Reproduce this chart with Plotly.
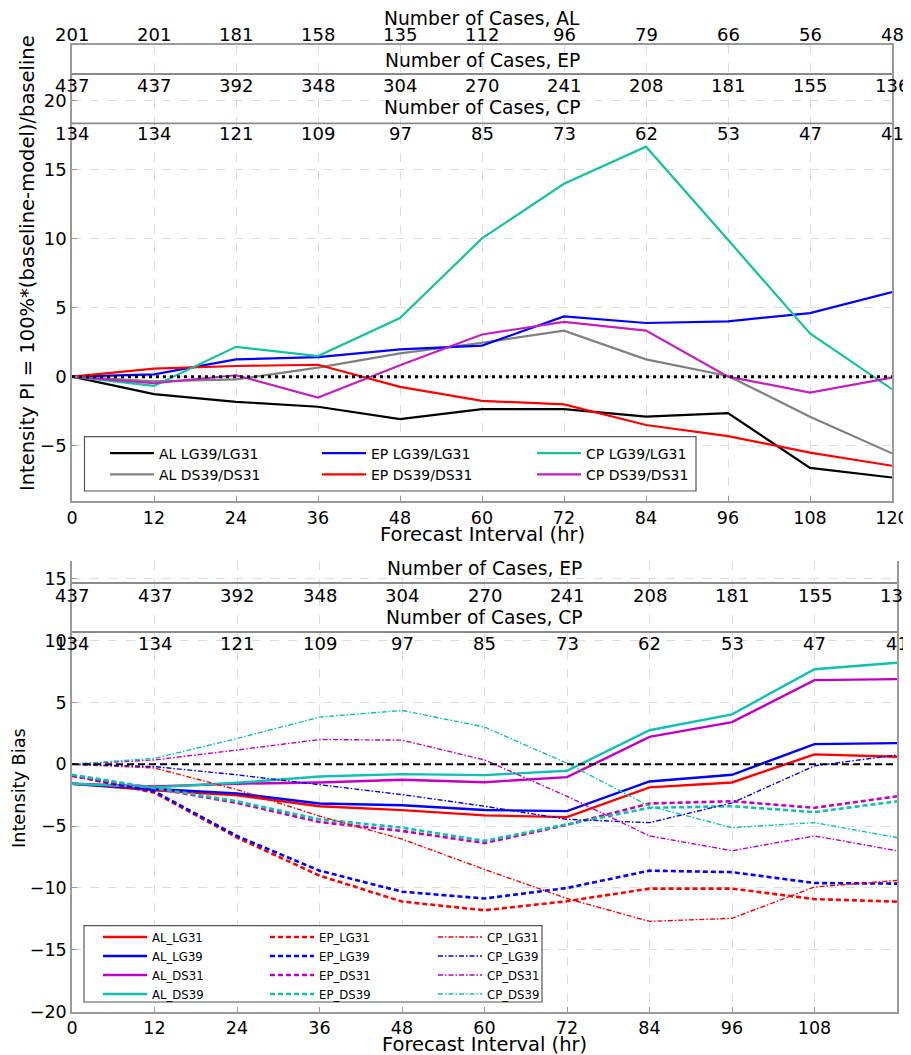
import plotly.graph_objects as go

# The page body has an 8px margin; the figure is sized to fill the rest of the
# 911x1055 window and reference pixel positions are shifted accordingly.
OFFSET = 8
W, H = 911 - OFFSET, 1055 - OFFSET


def px(x):
    return (x - OFFSET) / W


def py(y):
    return 1 - (y - OFFSET) / H


# ---------------- data ----------------
hours = [0, 12, 24, 36, 48, 60, 72, 84, 96, 108, 120]
cases_al = [201, 201, 181, 158, 135, 112, 96, 79, 66, 56, 48]
cases_ep = [437, 437, 392, 348, 304, 270, 241, 208, 181, 155, 136]
cases_cp = [134, 134, 121, 109, 97, 85, 73, 62, 53, 47, 41]

# top panel: Intensity PI (%)
pi_al_lg = [0, -1.27, -1.82, -2.18, -3.07, -2.35, -2.35, -2.9, -2.64, -6.6, -7.3]
pi_al_ds = [0, -0.35, -0.2, 0.65, 1.68, 2.45, 3.33, 1.25, 0.05, -2.9, -5.55]
pi_ep_lg = [0, 0.17, 1.25, 1.41, 1.97, 2.25, 4.36, 3.88, 4.0, 4.6, 6.12]
pi_ep_ds = [0, 0.58, 0.77, 0.86, -0.74, -1.75, -2.01, -3.5, -4.3, -5.5, -6.45]
pi_cp_lg = [0, -0.67, 2.16, 1.49, 4.24, 10.0, 13.96, 16.64, 9.9, 3.12, -0.91]
pi_cp_ds = [0, -0.48, 0.1, -1.51, 0.82, 3.05, 3.96, 3.33, 0.0, -1.15, -0.07]

# bottom panel: Intensity Bias
al_lg31 = [-1.57, -2.1, -2.5, -3.39, -3.71, -4.13, -4.27, -1.87, -1.47, 0.8, 0.61]
al_lg39 = [-1.57, -2.0, -2.35, -3.17, -3.31, -3.7, -3.79, -1.39, -0.85, 1.63, 1.71]
al_ds31 = [-1.57, -1.79, -1.57, -1.47, -1.25, -1.45, -1.04, 2.21, 3.41, 6.8, 6.88]
al_ds39 = [-1.57, -1.87, -1.5, -0.99, -0.8, -0.88, -0.53, 2.75, 4.03, 7.68, 8.21]
ep_lg31 = [-0.9, -2.3, -5.92, -9.0, -11.1, -11.8, -11.07, -10.05, -10.05, -10.9, -11.1]
ep_lg39 = [-0.9, -2.2, -5.8, -8.6, -10.3, -10.85, -10.0, -8.6, -8.72, -9.6, -9.65]
ep_ds31 = [-0.95, -1.95, -3.12, -4.67, -5.39, -6.37, -4.9, -3.17, -2.99, -3.52, -2.59]
ep_ds39 = [-0.85, -1.9, -2.99, -4.45, -5.12, -6.19, -4.85, -3.52, -3.39, -3.87, -2.99]
cp_lg31 = [0, -0.3, -2.05, -4.19, -6.05, -8.5, -10.85, -12.7, -12.45, -9.92, -9.39]
cp_lg39 = [0, -0.19, -0.85, -1.65, -2.45, -3.39, -4.45, -4.72, -3.12, -0.13, 0.75]
cp_ds31 = [0, 0.35, 1.15, 2.0, 1.95, 0.35, -2.59, -5.79, -6.99, -5.79, -6.99]
cp_ds39 = [0, 0.48, 2.08, 3.81, 4.35, 3.01, 0.08, -3.39, -5.12, -4.72, -5.92]

# ---------------- styles ----------------
FONT = "DejaVu Sans"
RED, BLUE, MAG, CYN = "#ff0000", "#0000ff", "#c000c0", "#10c0b0"
SOLID = dict(width=2.4)
DASH = dict(width=2.6, dash="5px,3px")
DDOT = dict(width=1.4, dash="5px,2px,1.5px,2px")

fig = go.Figure()

top_series = [
    ("AL LG39/LG31", pi_al_lg, "#000000", "legend"),
    ("AL DS39/DS31", pi_al_ds, "#808080", "legend"),
    ("EP LG39/LG31", pi_ep_lg, "#0000ff", "legend2"),
    ("EP DS39/DS31", pi_ep_ds, "#ff0000", "legend2"),
    ("CP LG39/LG31", pi_cp_lg, "#14c39b", "legend3"),
    ("CP DS39/DS31", pi_cp_ds, "#c020c0", "legend3"),
]
for name, vals, col, lg in top_series:
    fig.add_trace(go.Scatter(x=hours, y=vals, name=name, mode="lines",
                             line=dict(color=col, width=2.2), legend=lg,
                             xaxis="x", yaxis="y"))

bot_series = [
    ("AL_LG31", al_lg31, RED, SOLID, "legend4"),
    ("AL_LG39", al_lg39, BLUE, SOLID, "legend4"),
    ("AL_DS31", al_ds31, MAG, SOLID, "legend4"),
    ("AL_DS39", al_ds39, CYN, SOLID, "legend4"),
    ("EP_LG31", ep_lg31, RED, DASH, "legend5"),
    ("EP_LG39", ep_lg39, BLUE, DASH, "legend5"),
    ("EP_DS31", ep_ds31, MAG, DASH, "legend5"),
    ("EP_DS39", ep_ds39, CYN, DASH, "legend5"),
    ("CP_LG31", cp_lg31, RED, DDOT, "legend6"),
    ("CP_LG39", cp_lg39, BLUE, DDOT, "legend6"),
    ("CP_DS31", cp_ds31, MAG, DDOT, "legend6"),
    ("CP_DS39", cp_ds39, CYN, DDOT, "legend6"),
]
for name, vals, col, sty, lg in bot_series:
    fig.add_trace(go.Scatter(x=hours, y=vals, name=name, mode="lines",
                             line=dict(color=col, **sty), legend=lg,
                             xaxis="x2", yaxis="y2"))

AX = dict(showline=True, linecolor="#9a9a9a", linewidth=1.5,
          ticks="inside", ticklen=5, tickcolor="#9a9a9a",
          showgrid=True, gridcolor="#dcdcdc", gridwidth=0.8, griddash="dash",
          zeroline=False, color="#000000", automargin=False)

layout = dict(
    width=W, height=H, margin=dict(l=0, r=0, t=0, b=0, autoexpand=False),
    paper_bgcolor="white", plot_bgcolor="white",
    font=dict(family=FONT, color="#000000"),
    xaxis=dict(domain=[px(72), px(892)], range=[0, 120], tick0=0, dtick=12,
               mirror=True, anchor="y", tickfont=dict(size=17.5), **AX),
    yaxis=dict(domain=[py(501), py(45)], range=[-9, 24], tick0=0, dtick=5,
               mirror=True, anchor="x", tickfont=dict(size=18), **AX),
    xaxis2=dict(domain=[px(72), px(897)], range=[0, 120], tick0=0, dtick=12,
                mirror=False, anchor="y2", tickfont=dict(size=17.5), **AX),
    yaxis2=dict(domain=[py(1011.7), py(561)], range=[-20, 16.43], tick0=0, dtick=5,
                mirror=True, anchor="x2", tickfont=dict(size=17.5), **AX),
)

IW = 44
LEG = dict(orientation="v", xanchor="left", yanchor="top", bgcolor="rgba(0,0,0,0)",
           borderwidth=0, itemwidth=IW, tracegroupgap=0)
OFF = IW + 10
layout["legend"] = dict(x=px(159 - OFF), y=py(437.5), font=dict(size=14, family=FONT), **LEG)
layout["legend2"] = dict(x=px(371 - OFF), y=py(437.5), font=dict(size=14, family=FONT), **LEG)
layout["legend3"] = dict(x=px(586 - OFF), y=py(437.5), font=dict(size=14, family=FONT), **LEG)
layout["legend4"] = dict(x=px(152 - OFF), y=py(922.5), font=dict(size=11.7, family=FONT), **LEG)
layout["legend5"] = dict(x=px(319 - OFF), y=py(922.5), font=dict(size=11.7, family=FONT), **LEG)
layout["legend6"] = dict(x=px(487 - OFF), y=py(922.5), font=dict(size=11.7, family=FONT), **LEG)
fig.update_layout(**layout)

GRAY = "#8a8a8a"
shapes = [
    # header separators
    dict(type="line", xref="x domain", yref="paper", x0=0, x1=1, y0=py(74), y1=py(74),
         line=dict(color=GRAY, width=1.8)),
    dict(type="line", xref="x domain", yref="paper", x0=0, x1=1, y0=py(123.3), y1=py(123.3),
         line=dict(color=GRAY, width=1.8)),
    dict(type="line", xref="x2 domain", yref="paper", x0=0, x1=1, y0=py(583), y1=py(583),
         line=dict(color=GRAY, width=1.8)),
    dict(type="line", xref="x2 domain", yref="paper", x0=0, x1=1, y0=py(632), y1=py(632),
         line=dict(color=GRAY, width=1.8)),
    # zero reference lines
    dict(type="line", xref="x domain", yref="y", x0=0, x1=1, y0=0, y1=0, layer="above",
         line=dict(color="black", width=3, dash="3px,4px")),
    dict(type="line", xref="x2 domain", yref="y2", x0=0, x1=1, y0=0, y1=0, layer="above",
         line=dict(color="black", width=2, dash="7px,4px")),
    # legend frames
    dict(type="rect", xref="paper", yref="paper", x0=px(84.5), x1=px(696), y0=py(491), y1=py(436.7),
         layer="above", fillcolor="white", line=dict(color="#555555", width=1.2)),
    dict(type="rect", xref="paper", yref="paper", x0=px(84), x1=px(542), y0=py(1002), y1=py(925.7),
         layer="above", fillcolor="white", line=dict(color="#555555", width=1.2)),
]
fig.update_layout(shapes=shapes)

ann = []


def add_text(text, x, y, size, xref="paper", yref="paper", angle=0):
    ann.append(dict(text=text, x=x, y=y, xref=xref, yref=yref, showarrow=False,
                    xanchor="center", yanchor="middle", textangle=angle,
                    font=dict(size=size, family=FONT, color="black")))


# top header
add_text("Number of Cases, AL", 0.5, py(18), 18.7, xref="x domain")
add_text("Number of Cases, EP", 0.5, py(60), 18.7, xref="x domain")
add_text("Number of Cases, CP", 0.5, py(108), 18.7, xref="x domain")
for h, n in zip(hours, cases_al):
    add_text(str(n), h, py(35), 18, xref="x")
for h, n in zip(hours, cases_ep):
    add_text(str(n), h, py(85), 18, xref="x")
for h, n in zip(hours, cases_cp):
    add_text(str(n), h, py(134), 18, xref="x")

# bottom header
add_text("Number of Cases, EP", 0.5, py(568), 18.7, xref="x2 domain")
add_text("Number of Cases, CP", 0.5, py(617), 18.7, xref="x2 domain")
for h, n in zip(hours, cases_ep):
    add_text(str(n), h, py(595), 18, xref="x2")
for h, n in zip(hours, cases_cp):
    add_text(str(n), h, py(643), 18, xref="x2")

# axis titles
add_text("Forecast Interval (hr)", 0.5, py(534), 19.5, xref="x domain")
add_text("Forecast Interval (hr)", 0.5, py(1044), 19.5, xref="x2 domain")
add_text("Intensity PI = 100%*(baseline-model)/baseline", px(28), py(263), 19.5, angle=-90)
add_text("Intensity Bias", px(19), py(788), 17.7, angle=-90)

fig.update_layout(annotations=ann)

fig.write_html("out.html")
